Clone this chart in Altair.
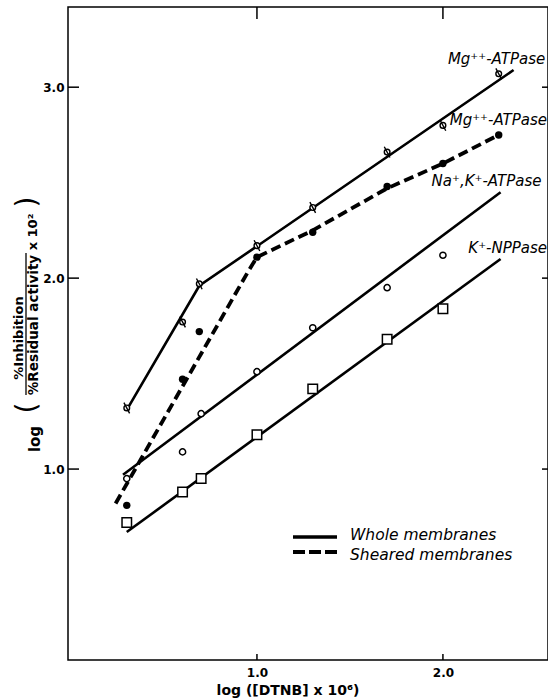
import altair as alt
import pandas as pd

# ---- data ----
x_pts = [0.30, 0.60, 0.69, 1.00, 1.30, 1.70, 2.00, 2.30]
mg_whole_y = [1.32, 1.77, 1.97, 2.17, 2.37, 2.66, 2.80, 3.07]
mg_sheared_y = [0.81, 1.47, 1.72, 2.11, 2.24, 2.48, 2.60, 2.75]

x_pts7 = [0.30, 0.60, 0.70, 1.00, 1.30, 1.70, 2.00]
nak_y = [0.95, 1.09, 1.29, 1.51, 1.74, 1.95, 2.12]
knpp_y = [0.72, 0.88, 0.95, 1.18, 1.42, 1.68, 1.84]

# fitted / drawn lines
mg_whole_line_x = [0.30, 0.69, 2.38]
mg_whole_line_y = [1.31, 1.96, 3.09]
mg_sheared_line_x = [0.24, 0.95, 1.00, 1.30, 1.70, 2.00, 2.30]
mg_sheared_line_y = [0.82, 2.03, 2.11, 2.25, 2.47, 2.60, 2.75]
nak_line_x = [0.28, 2.31]
nak_line_y = [0.97, 2.45]
knpp_line_x = [0.30, 2.31]
knpp_line_y = [0.67, 2.10]

series_labels = ["Mg\u207a\u207a-ATPase", "Mg\u207a\u207a-ATPase", "Na\u207a,K\u207a-ATPase", "K\u207a-NPPase"]
label_x = [2.55, 2.56, 2.53, 2.56]
label_y = [3.15, 2.83, 2.51, 2.16]

x_ticks = [1.0, 2.0]
y_ticks = [1.0, 2.0, 3.0]

FONT = "DejaVu Sans"
W, H = 480, 653
xs = alt.Scale(domain=[-0.016, 2.565], nice=False, zero=False)
ys = alt.Scale(domain=[0, 3.42], nice=False, zero=False)

x_axis = alt.Axis(values=x_ticks, format=".1f", ticks=False, domain=False, grid=False,
                  title=None, labelFontSize=12, labelFontWeight="bold", labelPadding=7,
                  labelColor="black", labelFont=FONT)
y_axis = alt.Axis(values=y_ticks, format=".1f", ticks=False, domain=False, grid=False,
                  title=None, labelFontSize=12, labelFontWeight="bold", labelPadding=4,
                  labelColor="black", labelFont=FONT)

def X(f="x"):
    return alt.X(f"{f}:Q", scale=xs, axis=x_axis)

def Y(f="y"):
    return alt.Y(f"{f}:Q", scale=ys, axis=y_axis)

def df(xv, yv):
    return pd.DataFrame({"x": xv, "y": yv})

one = alt.Data(values=[{"a": 1}])

lines = []
solid = dict(color="black", strokeWidth=2.6)
lines.append(alt.Chart(df(mg_whole_line_x, mg_whole_line_y)).mark_line(**solid).encode(x=X(), y=Y()))
lines.append(alt.Chart(df(nak_line_x, nak_line_y)).mark_line(**solid).encode(x=X(), y=Y()))
lines.append(alt.Chart(df(knpp_line_x, knpp_line_y)).mark_line(**solid).encode(x=X(), y=Y()))
lines.append(alt.Chart(df(mg_sheared_line_x, mg_sheared_line_y)).mark_line(
    color="black", strokeWidth=3.8, strokeDash=[10, 5], strokeCap="butt").encode(x=X(), y=Y()))

# markers
cross_circle = ("M-0.45,0A0.45,0.45 0 1,0 0.45,0A0.45,0.45 0 1,0 -0.45,0Z"
                "M-0.45,-0.85L0.45,0.85")
pts = []
pts.append(alt.Chart(df(x_pts, mg_whole_y)).mark_point(
    shape=cross_circle, size=160, filled=False, fill="white", fillOpacity=1,
    stroke="black", strokeWidth=1.4, opacity=1).encode(x=X(), y=Y()))
pts.append(alt.Chart(df(x_pts, mg_sheared_y)).mark_circle(
    size=55, color="black", opacity=1).encode(x=X(), y=Y()))
pts.append(alt.Chart(df(x_pts7, nak_y)).mark_point(
    shape="circle", size=38, filled=False, fill="white", fillOpacity=1,
    stroke="black", strokeWidth=1.5, opacity=1).encode(x=X(), y=Y()))
pts.append(alt.Chart(df(x_pts7, knpp_y)).mark_point(
    shape="square", size=90, filled=False, fill="white", fillOpacity=1,
    stroke="black", strokeWidth=1.5, opacity=1).encode(x=X(), y=Y()))

# series labels
lab_df = pd.DataFrame({"x": label_x, "y": label_y, "t": series_labels})
labels = alt.Chart(lab_df).mark_text(
    align="right", baseline="middle", font=FONT, fontSize=15, fontStyle="italic",
    color="black").encode(x=X(), y=Y(), text="t:N")

# inward ticks
xt = pd.DataFrame({"x": x_ticks})
yt = pd.DataFrame({"y": y_ticks})
tk = dict(color="black", strokeWidth=1.5)
ticks = [
    alt.Chart(xt).mark_rule(**tk).encode(x=X(), y=alt.value(H), y2=alt.value(H - 6)),
    alt.Chart(xt).mark_rule(**tk).encode(x=X(), y=alt.value(0), y2=alt.value(12)),
    alt.Chart(yt).mark_rule(**tk).encode(y=Y(), x=alt.value(0), x2=alt.value(11)),
    alt.Chart(yt).mark_rule(**tk).encode(y=Y(), x=alt.value(W), x2=alt.value(W - 6)),
]

def txt(t, px, py, size, angle=270, style="normal", align="center", weight="normal"):
    return alt.Chart(one).mark_text(
        text=t, angle=angle, font=FONT, fontSize=size, fontStyle=style, align=align,
        fontWeight=weight, baseline="middle", color="black").encode(
        x=alt.value(px), y=alt.value(py))

# y title (fraction), drawn as text
ytitle = [
    txt("log", -33, 432, 15, weight="bold"),
    txt("(", -40, 401, 28),
    txt("%Inhibition", -49, 331, 13, weight="bold"),
    txt("%Residual activity", -34, 318, 13.5, weight="bold"),
    txt("x 10\u00b2", -35, 225, 13, weight="bold"),
    txt(")", -40, 195, 28),
    alt.Chart(one).mark_rule(color="black", strokeWidth=1.3).encode(
        x=alt.value(-42), y=alt.value(246), y2=alt.value(388)),
]
xtitle = txt("log ([DTNB] x 10\u2076)", 220, 684, 14, angle=0, weight="bold")

# legend
legend = [
    alt.Chart(one).mark_rule(color="black", strokeWidth=3.5).encode(
        x=alt.value(225), x2=alt.value(269), y=alt.value(530)),
    alt.Chart(one).mark_rule(color="black", strokeWidth=3.8, strokeDash=[12, 4], strokeCap="butt").encode(
        x=alt.value(225), x2=alt.value(269), y=alt.value(545)),
    txt("Whole membranes", 282, 528, 15.5, angle=0, style="italic", align="left"),
    txt("Sheared membranes", 282, 548, 15.5, angle=0, style="italic", align="left"),
]

chart = alt.layer(*lines, *pts, labels, *ticks, *ytitle, xtitle, *legend).properties(
    width=W, height=H,
    padding={"left": 68, "top": 7, "right": 0, "bottom": 40},
    autosize=alt.AutoSizeParams(type="none"),
    background="white",
).configure_view(stroke="black", strokeWidth=1.5)

chart.save("out.html", embed_options={"renderer": "svg", "actions": False})
